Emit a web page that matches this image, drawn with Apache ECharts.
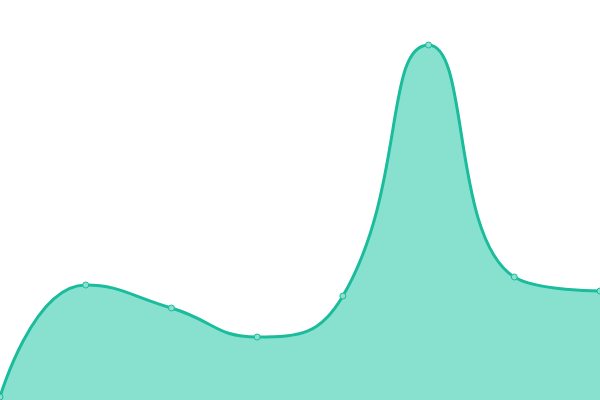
<!DOCTYPE html>
<html>
<head>
<meta charset="utf-8">
<script src="https://cdn.jsdelivr.net/npm/echarts@6/dist/echarts.min.js"></script>
<style>html,body{margin:0;padding:0;background:#fff}#c{width:600px;height:400px}</style>
</head>
<body>
<div id="c"></div>
<script>
const categories = ['1', '2', '3', '4', '5', '6', '7', '8'];
const values = [3, 115, 92, 63, 104, 355, 123, 109];

const chart = echarts.init(document.getElementById('c'));
chart.setOption({
  animation: false,
  grid: { left: 0, right: 0, top: 0, bottom: 0 },
  xAxis: { type: 'category', data: categories, boundaryGap: false, show: false },
  yAxis: { type: 'value', min: 0, max: 400, show: false },
  series: [{
    type: 'line',
    data: values,
    smooth: 0.5,
    symbol: 'circle',
    symbolSize: 6,
    lineStyle: { color: '#1abc9c', width: 3 },
    itemStyle: { color: '#8ae0cf', borderColor: '#1abc9c', borderWidth: 1 },
    areaStyle: { color: '#88e0cf', opacity: 1 }
  }]
});
</script>
</body>
</html>
